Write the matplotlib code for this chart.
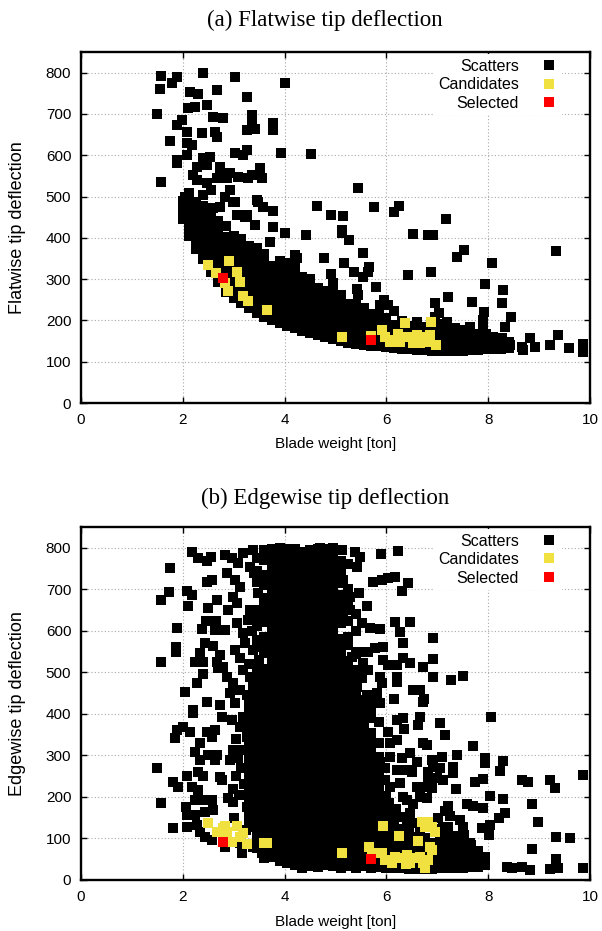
import matplotlib
matplotlib.use("Agg")
import matplotlib.pyplot as plt

plt.rcParams['font.family'] = ['Liberation Sans', 'DejaVu Sans']

# ---------------- (a) flatwise tip deflection ----------------
# isolated designs (blade weight [ton], deflection)
flat_sparse = [
    (1.57, 793), (1.89, 790), (1.79, 776), (1.55, 761), (2.40, 800), (3.03, 790), (4.01, 776),
    (2.14, 754), (2.30, 749), (2.67, 759), (3.26, 742), (1.49, 700), (2.10, 715), (2.24, 718),
    (2.48, 722), (2.59, 693), (2.79, 691), (3.36, 698), (3.36, 686), (3.77, 679), (3.77, 662),
    (1.98, 686), (1.89, 674), (2.08, 657), (2.38, 655), (2.63, 657), (2.67, 645), (3.26, 662),
    (3.42, 664), (1.75, 635), (2.08, 630), (2.18, 625), (1.89, 589), (1.89, 582), (2.08, 601),
    (3.03, 606), (3.18, 601), (3.26, 613), (3.93, 606), (4.52, 604), (2.40, 594), (2.53, 596),
    (2.28, 572), (2.48, 577), (2.73, 572), (2.73, 553), (2.93, 558), (3.08, 548), (3.52, 570),
    (3.56, 545), (3.28, 545), (3.36, 553), (2.20, 553), (2.28, 541), (2.48, 533), (2.67, 545),
    (2.87, 545), (1.57, 536), (2.93, 516), (2.04, 499), (2.08, 487), (3.46, 492), (3.58, 475),
    (3.77, 465), (4.64, 478), (4.91, 456), (2.14, 456), (2.34, 461), (2.99, 487), (3.06, 456),
    (3.22, 451), (3.42, 432), (3.77, 427), (2.73, 475), (2.59, 473), (3.03, 487), (3.26, 456),
    (3.48, 487), (3.71, 390), (4.20, 359), (4.24, 352), (2.55, 515), (2.40, 505), (2.83, 498),
    (5.44, 521), (5.15, 453), (5.76, 475), (6.15, 463), (6.25, 478), (7.17, 446), (5.13, 419),
    (4.42, 407), (4.01, 412), (5.13, 412), (5.27, 395), (6.52, 410), (6.82, 407), (6.92, 407),
    (7.52, 371), (7.39, 354), (9.33, 368), (8.07, 339), (4.77, 352), (5.17, 339), (5.54, 364),
    (5.66, 330), (5.64, 318), (5.36, 318), (5.54, 305), (6.42, 310), (6.88, 318), (5.80, 281),
    (7.94, 288), (8.29, 274), (5.42, 276), (5.44, 262), (7.21, 257), (6.95, 242), (7.68, 245),
    (8.27, 242), (5.95, 250), (6.03, 238), (6.15, 223), (7.92, 221), (7.03, 218), (8.45, 208),
    (7.19, 196), (8.33, 184), (8.27, 158), (8.82, 158), (8.92, 136), (9.37, 165), (9.21, 141),
    (9.59, 133), (9.86, 143), (9.86, 124), (8.66, 136), (8.68, 128), (7.90, 136), (8.23, 145),
    (8.43, 141), (7.64, 184), (7.70, 160), (7.90, 201), (7.90, 184), (4.91, 313), (4.95, 291),
    (5.87, 238), (6.95, 208),
]

# dense front, read column by column: (weight, [deflections])
flat_band = [
    (2.00, [446, 465, 490]),
    (2.12, [404, 423, 442, 461, 484, 508]),
    (2.26, [372, 391, 410, 429, 448, 467, 488]),
    (2.40, [350, 369, 388, 407, 426, 445, 464, 478]),
    (2.55, [318, 337, 356, 375, 394, 413, 432, 451, 466]),
    (2.70, [292, 311, 330, 349, 368, 387, 406, 425, 440]),
    (2.85, [270, 289, 308, 327, 346, 365, 384, 403, 428]),
    (3.00, [255, 274, 293, 312, 331, 350, 369, 388, 405]),
    (3.15, [242, 261, 280, 299, 318, 337, 356, 375, 398]),
    (3.30, [230, 249, 268, 287, 306, 325, 344, 363, 380]),
    (3.45, [219, 238, 257, 276, 295, 314, 333, 352, 375]),
    (3.60, [209, 228, 247, 266, 285, 304, 323, 342, 362]),
    (3.75, [200, 219, 238, 257, 276, 295, 314, 333]),
    (3.90, [193, 212, 231, 250, 269, 288, 307, 326, 344]),
    (4.05, [187, 206, 225, 244, 263, 282, 301, 320, 338]),
    (4.20, [181, 200, 219, 238, 257, 276, 295, 314, 330]),
    (4.35, [175, 194, 213, 232, 251, 270, 289, 306]),
    (4.50, [169, 188, 207, 226, 245, 264, 283, 300]),
    (4.65, [164, 183, 202, 221, 240, 259, 278]),
    (4.80, [159, 178, 197, 216, 235, 254, 272]),
    (4.95, [155, 174, 193, 212, 231, 250, 266]),
    (5.10, [150, 169, 188, 207, 226, 245, 262]),
    (5.25, [146, 165, 184, 203, 222, 241]),
    (5.40, [143, 162, 181, 200, 219, 238]),
    (5.55, [141, 160, 179, 198, 217, 230]),
    (5.70, [139, 158, 177, 196, 215]),
    (5.85, [137, 156, 175, 194, 213]),
    (6.00, [135, 154, 173, 192, 205]),
    (6.15, [133, 152, 171, 190]),
    (6.30, [131, 150, 169, 188, 198]),
    (6.45, [130, 149, 168, 187]),
    (6.60, [129, 148, 167, 186, 196]),
    (6.75, [128, 147, 166, 185]),
    (6.90, [127, 146, 165, 184]),
    (7.05, [126, 145, 164, 183, 192]),
    (7.20, [126, 145, 164, 180]),
    (7.35, [126, 145, 164, 182]),
    (7.50, [127, 146, 165, 176]),
    (7.65, [128, 147, 166]),
    (7.80, [129, 148, 167]),
    (7.95, [130, 149, 166]),
    (8.10, [131, 150, 160]),
    (8.25, [132, 151]),
    (8.40, [133, 149]),
]

flat_cand = [
    (2.50, 335), (2.65, 315), (2.91, 344), (3.06, 318), (3.12, 293), (2.83, 290), (2.89, 272),
    (3.18, 259), (3.28, 247), (3.65, 225), (5.13, 160), (5.70, 163), (5.91, 177), (5.97, 160),
    (6.13, 153), (6.23, 167), (6.27, 148), (6.37, 194), (6.46, 160), (6.60, 165), (6.66, 145),
    (6.76, 160), (6.82, 148), (6.86, 165), (6.88, 196), (6.97, 141), (6.52, 145), (6.07, 148),
    (6.42, 160),
]
flat_sel = [(2.79, 302), (5.70, 153)]

# ---------------- (b) edgewise tip deflection ----------------
edge_sparse = [
    (2.18, 790), (2.30, 776), (2.48, 769), (2.55, 778), (1.75, 752), (2.48, 718), (2.57, 723),
    (1.73, 694), (1.57, 675), (2.08, 696), (2.18, 687), (2.10, 660), (2.50, 655), (2.67, 675),
    (1.89, 607), (2.38, 605), (2.46, 624), (2.65, 624), (2.63, 602), (2.83, 602), (1.87, 561),
    (1.87, 549), (2.44, 571), (2.59, 564), (1.57, 525), (2.34, 547), (2.24, 525), (2.40, 525),
    (2.73, 542), (2.67, 525), (2.69, 511), (2.40, 496), (2.28, 475), (2.04, 453), (2.48, 429),
    (2.73, 422), (2.20, 410),
    (2.83, 783), (2.97, 776), (3.08, 764), (3.32, 754), (3.18, 788), (3.38, 795), (2.87, 740),
    (3.03, 723), (3.12, 706), (3.46, 718), (2.99, 682), (2.89, 651), (3.06, 667), (3.32, 651),
    (3.28, 627), (3.42, 634), (3.06, 619), (3.18, 595), (3.22, 571), (3.46, 578), (3.38, 554),
    (3.03, 554), (3.12, 535), (2.79, 513), (2.87, 489), (2.99, 475), (2.93, 451), (3.18, 506),
    (3.32, 489), (3.38, 470), (3.26, 446), (3.12, 458), (3.03, 427), (3.58, 441), (3.46, 427),
    (3.65, 499), (3.40, 740), (3.48, 690), (3.35, 600), (3.50, 530), (3.30, 520),
    (2.20, 402), (2.77, 393), (1.89, 361), (2.00, 369), (2.14, 357), (1.85, 342), (2.48, 357),
    (2.63, 361), (2.57, 345), (2.34, 330), (2.24, 308), (2.34, 289), (2.50, 301), (2.67, 301),
    (2.63, 289), (2.99, 313), (3.18, 313), (3.08, 294), (2.93, 289), (1.49, 270), (2.08, 251),
    (2.30, 260), (2.40, 251), (1.81, 236), (1.91, 224), (2.18, 224), (2.30, 217), (2.77, 241),
    (2.73, 248), (2.99, 219), (2.89, 198), (2.99, 188), (2.57, 193), (2.38, 193), (2.24, 193),
    (1.57, 186), (2.06, 176), (2.08, 157), (2.44, 164), (2.24, 157), (2.59, 169), (3.26, 176),
    (3.38, 157), (2.08, 128), (1.81, 125), (2.28, 133), (2.34, 116), (2.44, 104), (2.57, 96),
    (2.83, 80), (3.12, 89), (3.16, 65), (3.38, 80), (3.56, 65), (3.65, 116), (3.81, 80),
    (3.91, 60), (3.75, 137), (3.56, 133), (3.38, 128), (3.18, 393), (3.12, 369), (3.26, 345),
    (2.97, 386), (3.04, 340), (3.05, 250), (3.15, 270), (3.20, 230), (3.10, 205), (3.25, 120),
    (3.00, 150),
    (4.70, 800), (4.95, 800), (5.13, 795), (5.38, 790), (5.48, 778), (5.89, 786), (6.23, 793),
    (5.05, 759), (5.42, 754), (5.15, 723), (4.95, 723), (5.74, 718), (5.91, 723), (6.03, 728),
    (6.17, 730), (6.42, 716), (6.31, 696), (5.46, 692), (5.28, 682), (5.15, 687), (5.62, 660),
    (5.28, 651), (5.15, 631), (5.52, 619), (5.68, 607), (5.87, 605), (6.17, 622), (6.27, 598),
    (6.46, 622), (6.92, 583), (6.33, 571), (5.93, 561), (5.78, 559), (5.64, 549), (5.44, 549),
    (5.32, 537), (5.93, 530), (6.03, 518), (6.21, 518), (6.33, 535), (6.46, 523), (6.72, 513),
    (6.92, 532), (5.54, 523), (5.64, 506), (5.48, 499), (5.52, 487), (6.21, 489), (6.21, 477),
    (5.87, 489), (5.91, 475), (5.82, 451), (5.87, 427), (6.92, 489), (7.27, 482), (7.50, 492),
    (5.42, 465), (5.34, 451), (5.44, 434), (6.52, 458), (6.66, 458), (6.74, 436), (6.15, 436),
    (5.62, 446), (5.74, 427),
    (6.72, 429), (8.06, 393), (6.21, 386), (6.33, 390), (6.35, 364), (6.66, 393), (6.62, 374),
    (7.05, 378), (7.15, 349), (6.03, 357), (6.07, 330), (6.21, 337), (6.72, 330), (6.80, 325),
    (7.70, 323), (6.07, 296), (6.31, 294), (6.46, 306), (6.60, 284), (6.90, 289), (7.09, 296),
    (7.39, 301), (7.94, 294), (7.94, 282), (8.29, 287), (5.87, 284), (5.97, 270), (6.21, 265),
    (6.40, 265), (6.50, 260), (6.82, 260), (6.92, 272), (7.05, 270), (7.31, 272), (7.31, 258),
    (8.23, 263), (6.82, 241), (6.99, 246), (7.11, 241), (7.74, 236), (7.90, 243), (8.66, 241),
    (8.78, 236), (9.21, 241), (9.31, 222), (9.86, 253), (5.97, 241), (6.07, 224), (6.27, 234),
    (6.60, 224), (6.76, 224), (6.90, 222), (7.37, 219), (8.04, 202), (6.33, 200), (6.40, 193),
    (6.66, 200), (6.80, 198), (7.21, 178), (7.58, 183), (7.70, 178), (7.90, 173), (8.29, 195),
    (8.86, 183), (8.33, 161), (8.21, 149), (8.98, 140), (8.04, 133), (7.88, 125), (8.02, 108),
    (7.50, 128), (7.52, 108), (7.11, 128), (7.09, 116), (7.21, 116), (7.01, 149), (6.66, 116),
    (6.60, 104), (6.33, 152), (6.40, 145), (6.46, 161), (7.66, 84), (9.33, 104), (9.61, 101),
    (8.86, 75), (9.33, 51), (8.37, 31), (8.47, 29), (8.66, 31), (8.82, 24), (9.21, 27),
    (9.37, 29), (9.86, 29), (7.94, 55), (7.94, 36), (7.68, 48), (7.58, 36),
    (6.05, 185), (6.18, 172), (6.52, 182), (6.55, 136), (7.45, 145), (7.25, 155), (7.15, 165),
]

# solid core of the cloud, column by column
edge_core = [
    (3.30, [140, 159, 178, 197, 216, 235, 254, 273, 292, 311, 330, 349, 368, 387, 406, 425]),
    (3.45, [78, 97, 116, 135, 154, 173, 192, 211, 230, 249, 268, 287, 306, 325, 344, 363, 382,
            401, 420, 439, 458, 477, 496, 515, 560, 612, 650, 745, 775]),
    (3.60, [52, 71, 90, 109, 128, 147, 166, 185, 204, 223, 242, 261, 280, 299, 318, 337, 356,
            375, 394, 413, 432, 451, 470, 489, 508, 546, 565, 584, 622, 641, 660, 679,
            710, 735, 770, 795]),
    (3.75, [55, 74, 93, 112, 131, 150, 169, 188, 207, 226, 245, 264, 283, 302, 321, 340, 359,
            378, 397, 416, 435, 454, 473, 492, 511, 530, 549, 568, 587, 606, 625, 644, 663, 682,
            701, 720, 739, 758, 777, 796]),
    (3.90, [46, 65, 84, 103, 122, 141, 160, 179, 198, 217, 236, 255, 274, 293, 312, 331, 350,
            369, 388, 407, 426, 445, 464, 483, 502, 521, 540, 559, 578, 597, 616, 635, 654, 673,
            692, 711, 730, 749, 768, 787, 799]),
    (4.05, [42, 61, 80, 99, 118, 137, 156, 175, 194, 213, 232, 251, 270, 289, 308, 327, 346,
            365, 384, 403, 422, 441, 460, 479, 498, 517, 536, 555, 574, 593, 612, 631, 650, 669,
            688, 707, 726, 745, 764, 783, 798]),
    (4.20, [36, 55, 74, 93, 112, 131, 150, 169, 188, 207, 226, 245, 264, 283, 302, 321, 340,
            359, 378, 397, 416, 435, 454, 473, 492, 511, 530, 549, 568, 587, 606, 625, 644, 663,
            682, 701, 720, 739, 758, 777, 796]),
    (4.35, [30, 49, 68, 87, 106, 125, 144, 163, 182, 201, 220, 239, 258, 277, 296, 315, 334,
            353, 372, 391, 410, 429, 448, 467, 486, 505, 524, 543, 562, 581, 600, 619, 638, 657,
            676, 695, 714, 733, 752, 771, 790]),
    (4.50, [34, 53, 72, 91, 110, 129, 148, 167, 186, 205, 224, 243, 262, 281, 300, 319, 338,
            357, 376, 395, 414, 433, 452, 471, 490, 509, 528, 547, 566, 585, 604, 623, 642, 661,
            680, 699, 718, 737, 756, 775, 794]),
    (4.65, [31, 50, 69, 88, 107, 126, 145, 164, 183, 202, 221, 240, 259, 278, 297, 316, 335,
            354, 373, 392, 411, 430, 449, 468, 487, 506, 525, 544, 563, 582, 601, 620, 639, 658,
            677, 696, 715, 734, 753, 772, 797]),
    (4.80, [37, 56, 75, 94, 113, 132, 151, 170, 189, 208, 227, 246, 265, 284, 303, 322, 341,
            360, 379, 398, 417, 436, 455, 474, 493, 512, 531, 550, 569, 588, 607, 626, 645, 664,
            683, 702, 721, 740, 759, 778, 798]),
    (4.95, [33, 52, 71, 90, 109, 128, 147, 166, 185, 204, 223, 242, 261, 280, 299, 318, 337,
            356, 375, 394, 413, 432, 451, 470, 489, 508, 527, 546, 565, 584, 603, 622, 641, 660,
            679, 698, 717, 736, 755, 774, 792]),
    (5.10, [30, 49, 68, 87, 106, 125, 144, 163, 182, 201, 220, 239, 258, 277, 296, 315, 334,
            353, 372, 391, 410, 429, 448, 467, 486, 505, 524, 543, 562, 581, 619, 638, 657,
            676, 714, 740, 768]),
    (5.25, [34, 53, 72, 91, 110, 129, 148, 167, 186, 205, 224, 243, 262, 281, 300, 319, 338,
            357, 376, 395, 414, 433, 452, 471, 490, 509, 528, 566, 585, 623, 661,
            700, 760]),
    (5.40, [30, 49, 68, 87, 106, 125, 144, 163, 182, 201, 220, 239, 258, 277, 296, 315, 334,
            353, 372, 391, 410, 429, 448, 486, 505, 543, 600, 640]),
    (5.55, [33, 52, 71, 90, 109, 128, 147, 166, 185, 204, 223, 242, 261, 280, 299, 318, 337,
            356, 375, 394, 413, 432]),
    (5.70, [30, 49, 68, 87, 106, 125, 144, 163, 182, 201, 220, 239, 258, 277, 296, 315, 334,
            353, 391, 412]),
    (5.85, [31, 50, 69, 88, 107, 126, 145, 164, 183, 202, 221, 240, 259, 297, 330, 380]),
    (6.00, [30, 49, 68, 87, 106, 125, 144, 163, 201]),
    (6.15, [29, 48, 67, 86, 105, 124, 143, 162]),
    (6.30, [28, 47, 66, 85, 104, 123]),
    (6.45, [27, 46, 65, 84, 103, 122]),
    (6.60, [27, 46, 65, 84]),
    (6.75, [27, 46, 65, 84, 100]),
    (6.90, [27, 46, 65, 88]),
    (7.05, [28, 47, 66, 85, 104, 123]),
    (7.20, [28, 47, 66, 85, 104, 128]),
    (7.35, [29, 48, 67, 86, 105]),
    (7.50, [30, 49, 68, 87, 100]),
    (7.65, [31, 50, 69, 88]),
    (7.80, [32, 51, 70]),
]

edge_cand = [
    (2.50, 137), (2.67, 116), (2.79, 125), (2.83, 130), (2.87, 116), (3.06, 130), (3.18, 113),
    (3.12, 104), (2.97, 92), (3.26, 87), (3.60, 89), (3.65, 89),
    (5.93, 130), (6.25, 106), (6.62, 94), (6.70, 140), (6.82, 140), (6.76, 128), (6.90, 128),
    (6.95, 116), (6.86, 80), (6.90, 72), (5.13, 65), (5.66, 80), (5.72, 65), (5.91, 65),
    (5.97, 48), (6.11, 41), (6.17, 55), (6.27, 53), (6.40, 60), (6.46, 41), (6.56, 53),
    (6.66, 55), (6.72, 41), (6.76, 29), (6.82, 48), (6.38, 39),
]
edge_sel = [(2.79, 92), (5.70, 51)]

xticks = [0, 2, 4, 6, 8, 10]
yticks = [0, 100, 200, 300, 400, 500, 600, 700, 800]

BLACK = '#000000'
YELLOW = '#f0e040'
RED = '#ff0000'
MS = 6.6


def draw(ax, sparse, cols, cand, sel, ylabel):
    bx = [p[0] for p in sparse] + [x for x, ys in cols for _ in ys]
    by = [p[1] for p in sparse] + [y for x, ys in cols for y in ys]
    ax.plot(bx, by, ls='none', marker='s', ms=MS, mew=0, color=BLACK,
            label='Scatters', zorder=3)
    ax.plot([p[0] for p in cand], [p[1] for p in cand], ls='none', marker='s',
            ms=MS, mew=0, color=YELLOW, label='Candidates', zorder=4)
    ax.plot([p[0] for p in sel], [p[1] for p in sel], ls='none', marker='s',
            ms=MS, mew=0, color=RED, label='Selected', zorder=5)

    ax.set_xlim(0, 10)
    ax.set_ylim(0, 850)
    ax.set_xticks(xticks)
    ax.set_yticks(yticks)
    ax.tick_params(direction='in', top=True, right=True, length=4.5, width=1,
                   labelsize=11, pad=7)
    for s in ax.spines.values():
        s.set_linewidth(1.7)
    ax.set_axisbelow(True)
    ax.grid(True, color='#a8a8a8', linestyle=(0, (1, 2)), linewidth=0.8)
    ax.set_xlabel('Blade weight [ton]', fontsize=11)
    ax.set_ylabel(ylabel, fontsize=13)
    ax.yaxis.set_label_coords(-0.108, 0.5)

    leg = ax.legend(loc='upper right', bbox_to_anchor=(0.945, 0.995), markerfirst=False,
                    fontsize=11.5, handlelength=1.0, handletextpad=1.4, labelspacing=0.22,
                    borderpad=0.3, borderaxespad=0, frameon=True, fancybox=False)
    leg.get_frame().set_facecolor('white')
    leg.get_frame().set_edgecolor('none')
    leg.get_frame().set_alpha(1)
    for t in leg.get_texts():
        t.set_ha('right')
    return ax


fig = plt.figure(figsize=(6.02, 9.31), dpi=100)
ax1 = fig.add_axes([0.1346, 0.5671, 0.8455, 0.3770])
ax2 = fig.add_axes([0.1346, 0.0548, 0.8455, 0.3792])

draw(ax1, flat_sparse, flat_band, flat_cand, flat_sel, 'Flatwise tip deflection')
draw(ax2, edge_sparse, edge_core, edge_cand, edge_sel, 'Edgewise tip deflection')
ax1.xaxis.set_label_coords(0.5, -0.098)
ax2.xaxis.set_label_coords(0.5, -0.1)

fig.text(325 / 602, 1 - 26 / 931, '(a) Flatwise tip deflection', ha='center',
         va='baseline', fontsize=16.5, family='Liberation Serif')
fig.text(325 / 602, 1 - 504 / 931, '(b) Edgewise tip deflection', ha='center',
         va='baseline', fontsize=16.5, family='Liberation Serif')

fig.savefig('out.png', dpi=100)
